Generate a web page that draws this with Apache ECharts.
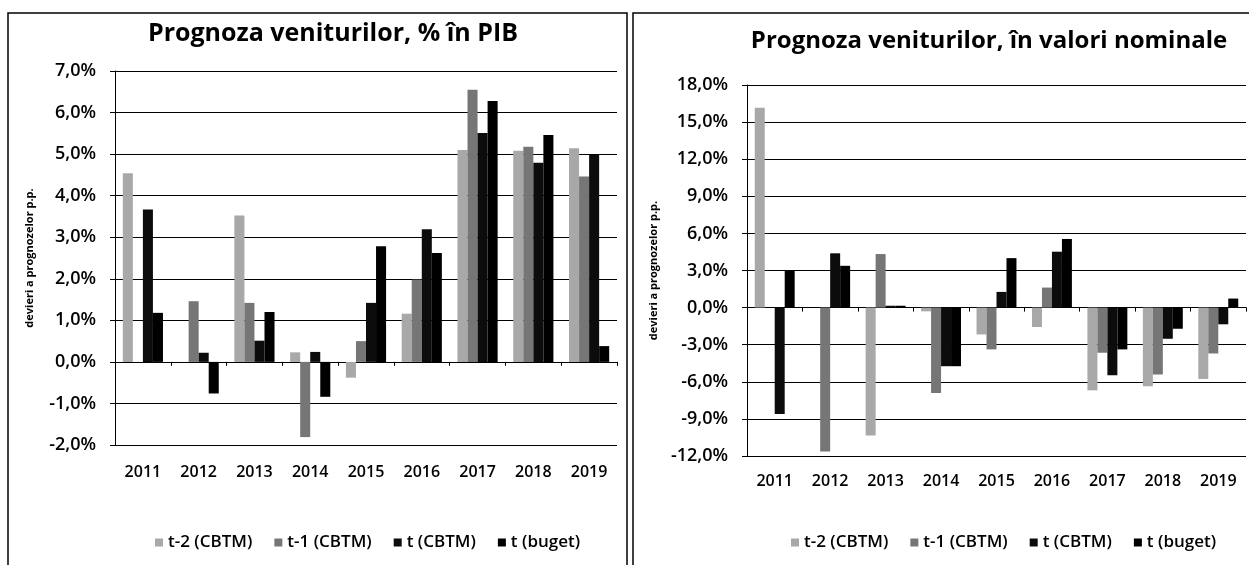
<!DOCTYPE html>
<html>
<head>
<meta charset="utf-8">
<script src="https://cdn.jsdelivr.net/npm/echarts@6/dist/echarts.min.js"></script>
<style>
html,body{margin:0;padding:0;background:#fff;}
#chart{width:1249px;height:565px;}
</style>
</head>
<body>
<div id="chart"></div>
<script>
const years = ['2011','2012','2013','2014','2015','2016','2017','2018','2019'];
const seriesNames = ['t-2 (CBTM)','t-1 (CBTM)','t (CBTM)','t (buget)'];

// Left: Prognoza veniturilor, % in PIB
const pibT2 = [4.54, null, 3.52, 0.23, -0.38, 1.16, 5.10, 5.08, 5.14];
const pibT1 = [null, 1.46, 1.42, -1.81, 0.50, 1.98, 6.55, 5.18, 4.46];
const pibT  = [3.67, 0.22, 0.51, 0.24, 1.42, 3.19, 5.51, 4.79, 4.98];
const pibB  = [1.18, -0.76, 1.20, -0.84, 2.78, 2.62, 6.28, 5.46, 0.38];

// Right: Prognoza veniturilor, in valori nominale
const nomT2 = [16.16, null, -10.34, -0.3, -2.17, -1.57, -6.69, -6.36, -5.77];
const nomT1 = [null, -11.64, 4.33, -6.9, -3.38, 1.62, -3.65, -5.41, -3.71];
const nomT  = [-8.6, 4.39, 0.15, -4.74, 1.27, 4.52, -5.47, -2.52, -1.35];
const nomB  = [2.98, 3.38, 0.15, -4.74, 4.0, 5.55, -3.38, -1.71, 0.73];

const leftTitle = 'Prognoza veniturilor, % în PIB';
const rightTitle = 'Prognoza veniturilor, în valori nominale';
const yName = 'devieri a prognozelor p.p.';

const colors = ['#a8a8a8', '#767676', '#0c0c0c', '#000000'];
const FONT = '"Open Sans", Lato, sans-serif';

const fmt = v => v.toFixed(1).replace('.', ',') + '%';

function yAxisFor(gi, min, max, interval, gap) {
  return {
    type: 'value', gridIndex: gi, min: min, max: max, interval: interval,
    name: yName, nameLocation: 'middle', nameGap: gap, nameRotate: 90,
    nameTextStyle: {fontFamily: FONT, fontWeight: 'bold', fontSize: 11, color: '#000'},
    axisLine: {show: true, lineStyle: {color: '#000', width: 1}},
    axisTick: {show: true, length: 5, lineStyle: {color: '#000'}},
    axisLabel: {formatter: fmt, fontFamily: FONT, fontWeight: 600, fontSize: 18, color: '#000', margin: 19},
    splitLine: {show: true, lineStyle: {color: '#000', width: 1}}
  };
}
function xLabelAxis(gi, margin) {
  return {
    type: 'category', gridIndex: gi, data: years, position: 'bottom',
    axisLine: {show: false, onZero: false},
    axisTick: {show: false},
    axisLabel: {fontFamily: FONT, fontWeight: 600, fontSize: 16, color: '#000', margin: margin, interval: 0},
    splitLine: {show: false}
  };
}
function xZeroAxis(gi) {
  return {
    type: 'category', gridIndex: gi, data: years, position: 'bottom',
    axisLine: {show: true, onZero: true, lineStyle: {color: '#000', width: 1}},
    axisTick: {show: true, length: 4, lineStyle: {color: '#000'}},
    axisLabel: {show: false},
    splitLine: {show: false}
  };
}
function barSeries(name, data, xi, yi, ci) {
  return {
    name: name, type: 'bar', data: data, xAxisIndex: xi, yAxisIndex: yi,
    barGap: '0%', barCategoryGap: '28%',
    itemStyle: {color: colors[ci]},
    emphasis: {disabled: true},
    animation: false
  };
}

const chart = echarts.init(document.getElementById('chart'), null, {renderer: 'canvas'});
chart.setOption({
  backgroundColor: '#fff',
  animation: false,
  title: [
    {text: leftTitle, left: 328, top: 16, textAlign: 'center',
     textStyle: {fontFamily: FONT, fontWeight: 'bold', fontSize: 25, color: '#000'}},
    {text: rightTitle, left: 984, top: 24, textAlign: 'center',
     textStyle: {fontFamily: FONT, fontWeight: 'bold', fontSize: 24, color: '#000'}}
  ],
  legend: [
    {data: seriesNames, left: 150, top: 529, icon: 'rect', itemWidth: 8, itemHeight: 8, itemGap: 22,
     textStyle: {fontFamily: FONT, fontWeight: 600, fontSize: 17, color: '#000'}},
    {data: seriesNames, left: 786, top: 529, icon: 'rect', itemWidth: 8, itemHeight: 8, itemGap: 22,
     textStyle: {fontFamily: FONT, fontWeight: 600, fontSize: 17, color: '#000'}}
  ],
  grid: [
    {left: 115, top: 71, width: 502, height: 374},
    {left: 747, top: 85, width: 499, height: 371}
  ],
  xAxis: [xLabelAxis(0, 19), xZeroAxis(0), xLabelAxis(1, 17), xZeroAxis(1)],
  yAxis: [yAxisFor(0, -2, 7, 1, 80), yAxisFor(1, -12, 18, 3, 88)],
  graphic: [
    {type: 'rect', shape: {x: 8, y: 13, width: 619, height: 560}, style: {fill: 'none', stroke: '#000', lineWidth: 1.5}, silent: true},
    {type: 'rect', shape: {x: 633, y: 13, width: 620, height: 560}, style: {fill: 'none', stroke: '#000', lineWidth: 1.5}, silent: true}
  ],
  series: [
    barSeries(seriesNames[0], pibT2, 0, 0, 0),
    barSeries(seriesNames[1], pibT1, 0, 0, 1),
    barSeries(seriesNames[2], pibT, 0, 0, 2),
    barSeries(seriesNames[3], pibB, 0, 0, 3),
    barSeries(seriesNames[0], nomT2, 2, 1, 0),
    barSeries(seriesNames[1], nomT1, 2, 1, 1),
    barSeries(seriesNames[2], nomT, 2, 1, 2),
    barSeries(seriesNames[3], nomB, 2, 1, 3)
  ]
});
</script>
</body>
</html>
